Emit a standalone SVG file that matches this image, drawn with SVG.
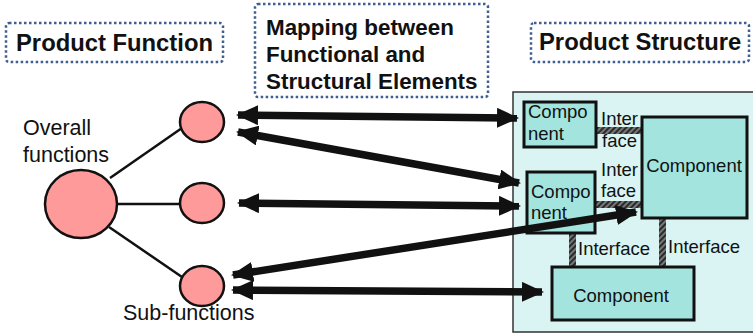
<svg xmlns="http://www.w3.org/2000/svg" width="753" height="336" viewBox="0 0 753 336">
<style>
.hd{font-family:"Liberation Sans",Arial,sans-serif;font-weight:bold;font-size:23.8px;fill:#111}
.mp{font-family:"Liberation Sans",Arial,sans-serif;font-weight:bold;font-size:22.4px;fill:#111}
.lb{font-family:"Liberation Sans",Arial,sans-serif;font-size:21.5px;fill:#111}
.st{font-family:"Liberation Sans",Arial,sans-serif;font-size:18.5px;fill:#111}
.dot{fill:#fff;stroke:#3f5f8f;stroke-width:2.5;stroke-dasharray:2.5 2.5}
.comp{fill:#a3e4df;stroke:#111;stroke-width:3}
.fn{fill:#ff9a9a;stroke:#111;stroke-width:2.5}
.tree{stroke:#111;stroke-width:2.5;fill:none}
.arr{stroke:#111;stroke-width:7.5;fill:none;marker-start:url(#ah);marker-end:url(#ah)}
</style>
<defs>
<marker id="ah" viewBox="0 0 22 20" refX="20" refY="10" markerWidth="22" markerHeight="20" markerUnits="userSpaceOnUse" orient="auto-start-reverse">
<path d="M0,0 L22,10 L0,20 Z" fill="#111"/>
</marker>
<pattern id="hatch" width="4" height="4" patternUnits="userSpaceOnUse" patternTransform="rotate(45)">
<rect width="4" height="4" fill="#777"/>
<rect width="2" height="4" fill="#2a2a2a"/>
</pattern>
</defs>

<g id="title-function">
<rect class="dot" x="6" y="23" width="217" height="39" rx="3"/>
<text class="hd" x="16" y="51">Product Function</text>
</g>
<g id="title-mapping">
<rect class="dot" x="255" y="4" width="233" height="93" rx="3"/>
<text class="mp" x="266" y="35">Mapping between</text>
<text class="mp" x="266" y="62">Functional and</text>
<text class="mp" x="266" y="89">Structural Elements</text>
</g>
<g id="title-structure">
<rect class="dot" x="531" y="23" width="218" height="39" rx="3"/>
<text class="hd" x="539" y="50">Product Structure</text>
</g>

<g id="structure-container">
<rect x="513" y="92" width="250" height="240" fill="#d9f4f2" stroke="#333" stroke-width="1.5"/>
</g>

<g id="interfaces">
<rect x="595" y="127" width="48" height="7" fill="url(#hatch)"/>
<rect x="594" y="201" width="49" height="7" fill="url(#hatch)"/>
<rect x="569" y="232" width="7" height="36" fill="url(#hatch)"/>
<rect x="659" y="217" width="7" height="51" fill="url(#hatch)"/>
<text class="st" x="601" y="125">Inter</text>
<text class="st" x="602" y="147">face</text>
<text class="st" x="601" y="176">Inter</text>
<text class="st" x="601" y="197">face</text>
<text class="st" x="578" y="255">Interface</text>
<text class="st" x="668" y="253">Interface</text>
</g>

<g id="component-1">
<rect class="comp" x="524" y="102" width="72" height="45"/>
<text class="st" x="528" y="118">Compo</text>
<text class="st" x="528" y="140">nent</text>
</g>
<g id="component-2">
<rect class="comp" x="527" y="172" width="68" height="61"/>
<text class="st" x="531" y="198">Compo</text>
<text class="st" x="531" y="219">nent</text>
</g>
<g id="component-3">
<rect class="comp" x="642" y="117" width="105" height="101"/>
<text class="st" x="694" y="172" text-anchor="middle">Component</text>
</g>
<g id="component-4">
<rect class="comp" x="552" y="267" width="142" height="53"/>
<text class="st" x="621" y="302" text-anchor="middle">Component</text>
</g>

<g id="connectors">
<line class="tree" x1="110" y1="178" x2="182" y2="128"/>
<line class="tree" x1="117" y1="204" x2="180" y2="204"/>
<line class="tree" x1="109" y1="227" x2="182" y2="277"/>
<line class="arr" x1="238" y1="115" x2="517" y2="118"/>
<line class="arr" x1="238" y1="132" x2="519" y2="183"/>
<line class="arr" x1="239" y1="203" x2="519" y2="206"/>
<line class="arr" x1="233" y1="275" x2="636" y2="212"/>
<line class="arr" x1="233" y1="290" x2="542" y2="292"/>
</g>

<g id="overall-function">
<ellipse class="fn" cx="81" cy="204" rx="36" ry="34"/>
<text class="lb" x="23" y="135">Overall</text>
<text class="lb" x="23" y="162">functions</text>
</g>
<g id="sub-function-1">
<ellipse class="fn" cx="202" cy="122" rx="22" ry="20"/>
</g>
<g id="sub-function-2">
<ellipse class="fn" cx="202" cy="203" rx="22" ry="20"/>
</g>
<g id="sub-function-3">
<ellipse class="fn" cx="202" cy="286" rx="22" ry="20"/>
<text class="lb" x="123" y="320">Sub-functions</text>
</g>
</svg>
